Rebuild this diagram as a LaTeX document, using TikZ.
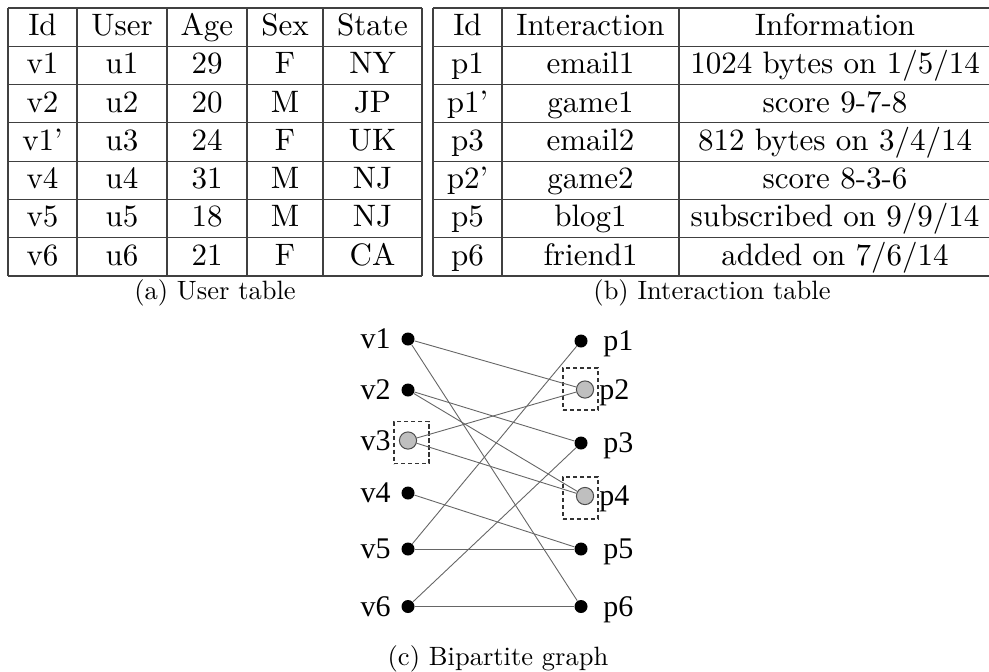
\documentclass[tikz,border=0pt]{standalone}
\usepackage{fontspec}
\setmainfont{lmroman10-regular}[Extension=.otf]
\newfontfamily\graphfont{Liberation Serif}

\begin{document}
\begin{tikzpicture}[x=0.5pt, y=-0.5pt,
		tabline/.style={draw=black!75, line width=0.6pt},
		cell/.style={anchor=base, inner sep=0pt, font=\fontsize{15.5}{18}\selectfont},
		subcap/.style={anchor=base, inner sep=0pt, font=\fontsize{13.25}{16}\selectfont},
		vdot/.style={circle, fill=black, inner sep=0pt, minimum size=6.5pt},
		gdot/.style={circle, draw=black!70, fill=black!25, line width=0.5pt, inner sep=0pt, minimum size=8.6pt},
		dashbox/.style={draw=black!80, dash pattern=on 2.2pt off 1.3pt, line width=0.6pt, inner sep=0pt, minimum width=17.5pt, minimum height=21pt},
		glabel/.style={inner sep=0pt, text depth=0pt, font=\graphfont\fontsize{15}{18}\selectfont},
		link/.style={draw=black!60, line width=0.45pt}]
				\useasboundingbox (0,0) rectangle (989,671);
				\foreach \i in {0,...,7} {
					\draw[tabline] (8,{8+38.29*\i}) -- (422,{8+38.29*\i});
					\draw[tabline] (433,{8+38.29*\i}) -- (995,{8+38.29*\i});
				}
				\foreach \x in {8,77,167,247,323,422,433,502,679,991}
					\draw[tabline] (\x,8) -- (\x,276);
				\foreach \a/\b/\c/\d/\e [count=\r from 0] in {Id/User/Age/Sex/State, v1/u1/29/F/NY, v2/u2/20/M/JP, v1'/u3/24/F/UK, v4/u4/31/M/NJ, v5/u5/18/M/NJ, v6/u6/21/F/CA} {
					\node[cell] at (42.5,{35.5+38.29*\r}) {\a};
					\node[cell] at (122,{35.5+38.29*\r}) {\b};
					\node[cell] at (207,{35.5+38.29*\r}) {\c};
					\node[cell] at (285,{35.5+38.29*\r}) {\d};
					\node[cell] at (372.5,{35.5+38.29*\r}) {\e};
				}
				\foreach \a/\b/\c [count=\r from 0] in {Id/Interaction/Information, p1/email1/{1024 bytes on 1/5/14}, p1'/game1/{score 9-7-8}, p3/email2/{812 bytes on 3/4/14}, p2'/game2/{score 8-3-6}, p5/blog1/{subscribed on 9/9/14}, p6/friend1/{added on 7/6/14}} {
					\node[cell] at (467.5,{35.5+38.29*\r}) {\a};
					\node[cell] at (590.5,{35.5+38.29*\r}) {\b};
					\node[cell] at (835,{35.5+38.29*\r}) {\c};
				}
				\node[subcap] (capa) at (215,299) {(a) User table};
				\node[subcap] (capb) at (712,299) {(b) Interaction table};
				\node[dashbox] (b3) at (411.5,442.5) {};
				\node[dashbox] (b2) at (580.5,389) {};
				\node[dashbox] (b4) at (580.5,498) {};
				\foreach \n/\s/\y in {1/vdot/339, 2/vdot/390, 3/gdot/440.5, 4/vdot/493, 5/vdot/549, 6/vdot/606.5} {
					\node[\s] (v\n) at (408,\y) {};
					\node[glabel, anchor=east] (lv\n) at (391,\y) {v\n};
				}
				\foreach \n/\s/\x/\lx/\y in {1/vdot/581/603/341, 2/gdot/585/599/389.5, 3/vdot/581/603/443, 4/gdot/585/599/496, 5/vdot/581/603/549, 6/vdot/581/603/606.5} {
					\node[\s] (p\n) at (\x,\y) {};
					\node[glabel, anchor=west] (lp\n) at (\lx,\y) {p\n};
				}
				\foreach \a/\b in {v1/p2, v1/p6, v2/p3, v2/p4, v3/p2, v3/p4, v4/p5, v5/p1, v5/p5, v6/p3, v6/p6}
					\draw[link] (\a) -- (\b);
				\node[subcap] (capc) at (498,665) {(c) Bipartite graph};
			\end{tikzpicture}
\end{document}
